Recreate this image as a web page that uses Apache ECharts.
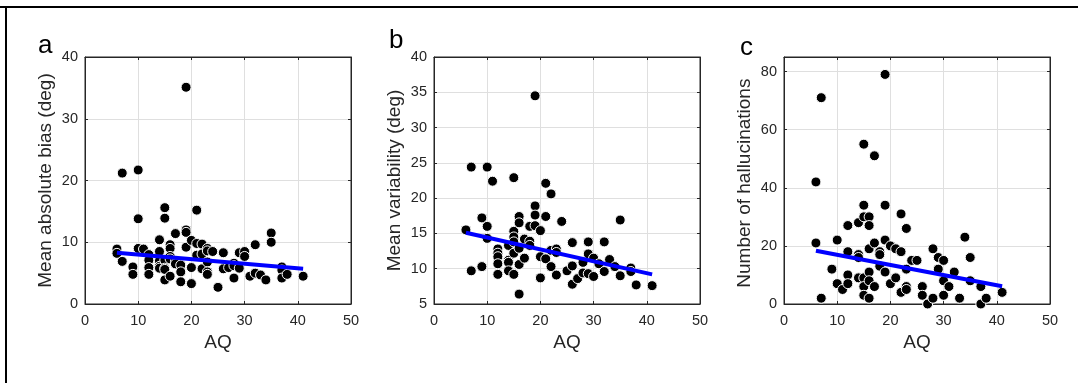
<!DOCTYPE html>
<html>
<head>
<meta charset="utf-8">
<script src="https://cdn.jsdelivr.net/npm/echarts@6/dist/echarts.min.js"></script>
<style>
html,body{margin:0;padding:0;background:#fff;}
#chart{width:1078px;height:383px;}
</style>
</head>
<body>
<div id="chart"></div>
<script>
// ---- data ----
var panelLetters = ['a', 'b', 'c'];
var xAxisTitle = 'AQ';
var yAxisTitles = ['Mean absolute bias (deg)', 'Mean variability (deg)', 'Number of hallucinations '];
var xTicks = [0, 10, 20, 30, 40, 50];
var yTicksA = [0, 10, 20, 30, 40];
var yTicksB = [5, 10, 15, 20, 25, 30, 35, 40];
var yTicksC = [0, 20, 40, 60, 80];
var yMaxC = 85;

var biasData = [[6,8.9],[6,8.2],[7,21.2],[7,6.9],[9,6.0],[9,4.8],[10,21.7],[10,13.8],[10,9.0],[11,8.9],[12,8.0],[12,7.1],[12,5.9],[12,4.8],[14,10.4],[14,8.5],[14,7.0],[14,6.1],[14,5.8],[15,15.6],[15,13.9],[15,7.1],[15,5.8],[15,5.6],[15,3.9],[16,9.6],[16,9.0],[16,7.7],[16,7.3],[16,4.5],[17,11.4],[17,6.9],[17,6.5],[18,6.3],[18,5.2],[18,3.6],[19,35.1],[19,12.0],[19,11.6],[19,9.2],[20,10.3],[20,5.9],[20,3.3],[21,15.2],[21,9.8],[21,7.9],[22,9.7],[22,8.1],[22,5.7],[23,9.0],[23,8.6],[23,6.8],[23,5.2],[23,4.8],[24,8.5],[25,2.7],[26,8.3],[26,5.7],[27,5.9],[28,6.6],[28,6.2],[28,4.2],[29,8.3],[29,5.8],[30,8.5],[30,7.7],[31,4.5],[32,9.6],[32,5.0],[33,4.7],[34,3.9],[35,11.5],[35,10.0],[37,6.0],[37,5.5],[37,4.2],[38,4.8],[41,4.5]];
var biasFit = [[6,8.3],[41,5.7]];

var variabilityData = [[6,15.5],[7,24.4],[7,9.7],[9,17.2],[9,10.3],[10,24.4],[10,16.0],[10,14.3],[11,22.4],[12,12.8],[12,12.2],[12,11.7],[12,10.7],[12,9.2],[14,13.3],[14,11.2],[14,10.9],[14,9.7],[15,22.9],[15,15.3],[15,14.5],[15,13.8],[15,12.2],[15,9.2],[16,17.4],[16,16.5],[16,12.9],[16,10.6],[16,6.4],[17,14.2],[17,11.5],[18,16.0],[18,13.9],[18,13.3],[19,34.5],[19,18.9],[19,17.6],[19,16.1],[20,15.4],[20,11.7],[20,8.7],[21,22.1],[21,17.4],[21,11.4],[22,20.6],[22,12.6],[22,10.3],[23,12.8],[23,12.3],[23,9.1],[24,16.7],[25,9.7],[26,13.7],[26,10.4],[26,7.8],[27,8.6],[28,10.9],[28,9.4],[29,13.8],[29,12.1],[29,9.3],[30,11.5],[30,8.9],[31,10.7],[32,13.8],[32,9.6],[33,11.3],[34,10.3],[35,16.9],[35,9.0],[37,10.1],[37,9.6],[38,7.7],[41,7.6]];
var variabilityFit = [[6,15.1],[41,9.2]];

var hallucinationData = [[6,42],[6,21],[7,71],[7,2],[9,12],[10,22],[10,7],[11,5],[12,27],[12,18],[12,10],[12,7],[14,28],[14,17],[14,16],[14,9],[15,55],[15,34],[15,30],[15,9],[15,6],[15,3],[16,30],[16,27],[16,19],[16,11],[16,8],[16,2],[17,51],[17,21],[17,6],[18,18],[18,17],[18,13],[19,79],[19,34],[19,22],[19,11],[20,20],[20,7],[21,19],[21,9],[22,31],[22,18],[22,4],[23,26],[23,12],[23,6],[23,5],[24,15],[25,15],[26,6],[26,3],[27,0],[28,19],[28,2],[29,16],[29,12],[30,15],[30,8],[30,3],[31,6],[32,11],[33,2],[34,23],[35,16],[35,8],[37,6],[37,0],[38,2],[41,4]];
var hallucinationFit = [[6,18.3],[41,6.1]];

// ---- chart ----
var FONT = '"Liberation Sans", Arial, Helvetica, sans-serif';
var AX = '#262626';
var gridLefts = [85, 434, 784];
var yMins = [yTicksA[0], yTicksB[0], yTicksC[0]];
var yMaxs = [yTicksA[yTicksA.length-1], yTicksB[yTicksB.length-1], yMaxC];
var yIntervals = [yTicksA[1]-yTicksA[0], yTicksB[1]-yTicksB[0], yTicksC[1]-yTicksC[0]];
var scatterSets = [biasData, variabilityData, hallucinationData];
var fitSets = [biasFit, variabilityFit, hallucinationFit];

var grids = [], xAxes = [], yAxes = [], series = [], graphics = [];
var letterPos = [[46, 55], [397, 50], [748, 57]];

for (var i = 0; i < 3; i++) {
  grids.push({left: gridLefts[i], top: 57, width: 266, height: 247, containLabel: false, outerBoundsMode: 'none',
    show: true, borderColor: AX, borderWidth: 1, backgroundColor: 'transparent'});
  var lineStyle = {show: true, onZero: false, lineStyle: {color: AX, width: 1}};
  var tick = {show: true, inside: true, length: 3, lineStyle: {color: AX}};
  xAxes.push({
    type: 'value', gridIndex: i, position: 'bottom',
    min: xTicks[0], max: xTicks[xTicks.length-1], interval: xTicks[1]-xTicks[0],
    name: xAxisTitle, nameLocation: 'middle', nameGap: 26,
    nameTextStyle: {fontFamily: FONT, fontSize: 19, color: AX},
    axisLine: lineStyle, axisTick: tick,
    axisLabel: {fontFamily: FONT, fontSize: 14.5, color: AX, margin: 9},
    splitLine: {show: true, lineStyle: {color: '#dfdfdf', width: 1}}
  });
  xAxes.push({
    type: 'value', gridIndex: i, position: 'top',
    min: xTicks[0], max: xTicks[xTicks.length-1], interval: xTicks[1]-xTicks[0],
    axisLine: lineStyle, axisTick: tick, axisLabel: {show: false}, splitLine: {show: false}
  });
  yAxes.push({
    type: 'value', gridIndex: i, position: 'left',
    min: yMins[i], max: yMaxs[i], interval: yIntervals[i],
    name: yAxisTitles[i], nameLocation: 'middle', nameGap: 30, nameRotate: 90,
    nameTextStyle: {fontFamily: FONT, fontSize: 19, color: AX},
    axisLine: lineStyle, axisTick: tick,
    axisLabel: {fontFamily: FONT, fontSize: 14.5, color: AX, margin: 7, showMaxLabel: i !== 2},
    splitLine: {show: true, lineStyle: {color: '#dfdfdf', width: 1}}
  });
  yAxes.push({
    type: 'value', gridIndex: i, position: 'right',
    min: yMins[i], max: yMaxs[i], interval: yIntervals[i],
    axisLine: lineStyle, axisTick: tick, axisLabel: {show: false}, splitLine: {show: false}
  });
  series.push({
    type: 'scatter', xAxisIndex: 2*i, yAxisIndex: 2*i,
    data: scatterSets[i], symbol: 'circle', symbolSize: 10,
    itemStyle: {color: '#000', borderColor: '#fff', borderWidth: 1, opacity: 1},
    emphasis: {disabled: true}, z: 2
  });
  series.push({
    type: 'line', xAxisIndex: 2*i, yAxisIndex: 2*i,
    data: fitSets[i], showSymbol: false, symbol: 'none',
    lineStyle: {color: '#0000ff', width: 4, cap: 'butt'},
    emphasis: {disabled: true}, z: 3, animation: false
  });
  // empty series so the top / right frame axes are laid out with their own ticks
  series.push({
    type: 'scatter', xAxisIndex: 2*i + 1, yAxisIndex: 2*i + 1, data: [], silent: true
  });
  graphics.push({
    type: 'text', left: letterPos[i][0] - 8, top: letterPos[i][1] - 22,
    style: {text: panelLetters[i], font: '26px ' + FONT, fill: '#000'}
  });
}

graphics.push({type: 'line', shape: {x1: 0, y1: 7, x2: 1078, y2: 7}, style: {stroke: '#000', lineWidth: 2}});
graphics.push({type: 'line', shape: {x1: 6, y1: 6, x2: 6, y2: 383}, style: {stroke: '#000', lineWidth: 2}});

var chart = echarts.init(document.getElementById('chart'), null, {renderer: 'canvas'});
chart.setOption({
  animation: false,
  backgroundColor: '#fff',
  grid: grids, xAxis: xAxes, yAxis: yAxes, series: series, graphic: graphics
});
</script>
</body>
</html>
